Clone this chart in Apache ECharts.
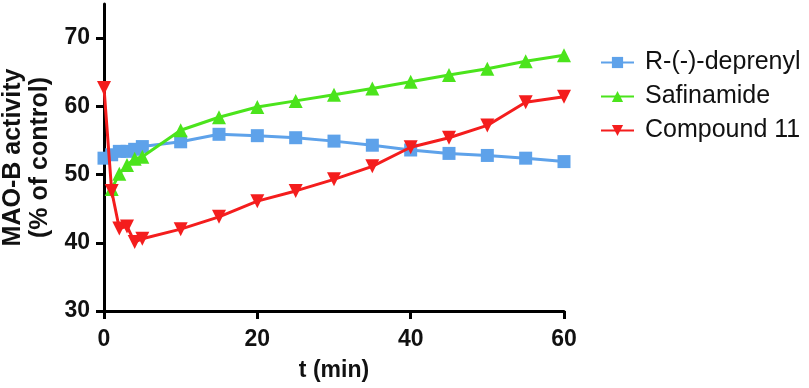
<!DOCTYPE html>
<html>
<head>
<meta charset="utf-8">
<script src="https://cdn.jsdelivr.net/npm/echarts@6/dist/echarts.min.js"></script>
<style>
  html, body { margin: 0; padding: 0; background: #fff; }
  #chart { width: 809px; height: 388px; }
</style>
</head>
<body>
<div id="chart"></div>
<script>
// 时间点 (min)
var tDeprenyl = [0, 1, 2, 3, 4, 5, 10, 15, 20, 25, 30, 35, 40, 45, 50, 55, 60];
var deprenyl = [52.4, 52.9, 53.4, 53.4, 53.7, 54.1, 54.8, 55.9, 55.7, 55.4, 54.9, 54.3, 53.6, 53.1, 52.8, 52.4, 51.9];

var tSafinamide = [1, 2, 3, 4, 5, 10, 15, 20, 25, 30, 35, 40, 45, 50, 55, 60];
var safinamide = [47.9, 50.1, 51.4, 52.3, 52.6, 56.5, 58.4, 59.9, 60.8, 61.7, 62.6, 63.6, 64.6, 65.5, 66.6, 67.5];

var tCompound = [0, 1, 2, 3, 4, 5, 10, 15, 20, 25, 30, 35, 40, 45, 50, 55, 60];
var compound11 = [62.7, 47.6, 42.1, 42.4, 40.1, 40.6, 42.0, 43.8, 46.1, 47.6, 49.3, 51.2, 54.0, 55.4, 57.2, 60.6, 61.4];

var yTicks = [30, 40, 50, 60, 70];

function pairs(xs, ys) {
    return xs.map(function (x, i) { return [x, ys[i]]; });
}

var chart = echarts.init(document.getElementById('chart'));
var font = 'Liberation Sans, Arial, sans-serif';

var option = {
    animation: false,
    grid: {
        left: 104,
        right: 245,
        top: 4,
        bottom: 77,
        containLabel: false,
        outerBoundsMode: 'none'
    },
    legend: {
        orient: 'vertical',
        left: 595,
        top: 45,
        itemWidth: 33,
        itemHeight: 14,
        itemGap: 9,
        textStyle: {
            fontFamily: font,
            fontSize: 25,
            color: '#111',
            padding: [0, 0, 0, 6]
        },
        data: ['R-(-)-deprenyl', 'Safinamide', 'Compound 11']
    },
    xAxis: {
        type: 'value',
        min: 0,
        max: 60,
        interval: 20,
        name: 't (min)',
        nameLocation: 'middle',
        nameGap: 48,
        nameTextStyle: {
            fontFamily: font,
            fontSize: 23,
            fontWeight: 'bold',
            color: '#111'
        },
        axisLine: { onZero: false, lineStyle: { color: '#000', width: 3 } },
        axisTick: { length: 8, lineStyle: { color: '#000', width: 3 } },
        axisLabel: {
            fontFamily: font,
            fontSize: 23,
            fontWeight: 'bold',
            color: '#111',
            margin: 17
        },
        splitLine: { show: false }
    },
    yAxis: {
        type: 'value',
        min: 30,
        max: 75,
        name: 'MAO-B activity\n(% of control)',
        nameLocation: 'middle',
        nameGap: 48,
        nameRotate: 90,
        nameTextStyle: {
            fontFamily: font,
            fontSize: 25,
            fontWeight: 'bold',
            color: '#111',
            lineHeight: 27
        },
        axisLine: { show: true, onZero: false, lineStyle: { color: '#000', width: 3 } },
        axisTick: { show: true, length: 8, customValues: yTicks, lineStyle: { color: '#000', width: 3 } },
        axisLabel: {
            customValues: yTicks,
            fontFamily: font,
            fontSize: 23,
            fontWeight: 'bold',
            color: '#111',
            margin: 14
        },
        splitLine: { show: false }
    },
    series: [{
        name: 'R-(-)-deprenyl',
        type: 'line',
        data: pairs(tDeprenyl, deprenyl),
        symbol: 'rect',
        symbolSize: 13,
        itemStyle: { color: '#5ea2ea' },
        lineStyle: { color: '#5ea2ea', width: 3 },
        z: 2
    }, {
        name: 'Safinamide',
        type: 'line',
        data: pairs(tSafinamide, safinamide),
        symbol: 'triangle',
        symbolSize: 14,
        itemStyle: { color: '#4be41c' },
        lineStyle: { color: '#4be41c', width: 3 },
        z: 3
    }, {
        name: 'Compound 11',
        type: 'line',
        data: pairs(tCompound, compound11),
        symbol: 'triangle',
        symbolRotate: 180,
        symbolSize: 14,
        itemStyle: { color: '#f41d1d' },
        lineStyle: { color: '#f41d1d', width: 3 },
        z: 4
    }]
};

chart.setOption(option);
</script>
</body>
</html>
